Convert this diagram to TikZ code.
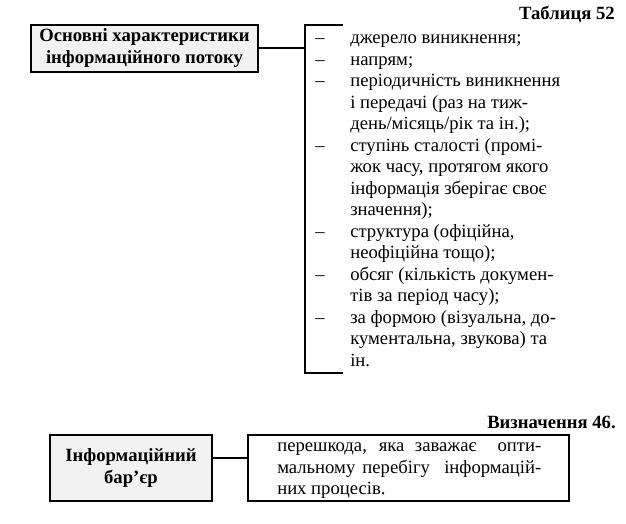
\documentclass[tikz,border=0pt]{standalone}
\usepackage{fontspec}
\setmainfont{Liberation Serif}
\begin{document}
\begin{tikzpicture}[x=0.75pt,y=-0.75pt,
  txt/.style={inner sep=0pt,font=\fontsize{14pt}{16.5pt}\selectfont},
  btxt/.style={inner sep=0pt,font=\fontsize{14pt}{16.5pt}\selectfont\bfseries},
  greybox/.style={draw,line width=1.5pt,fill=black!5,align=center,inner sep=0pt,
    font=\fontsize{14pt}{16.5pt}\selectfont\bfseries},
  whitebox/.style={draw,line width=1.5pt,inner sep=0pt},
  conn/.style={line width=1.4pt}]
\useasboundingbox (0,0) rectangle (626,524);

% titles
\node[btxt,anchor=base east] (tab) at (615,20) {Таблиця 52};
\node[btxt,anchor=base east] (viz) at (616,429) {Визначення 46.};

% top box
\node[greybox,minimum width=170.25pt,minimum height=35.25pt] (osn) at (144.5,48.5)
  {Основні характеристики\\інформаційного потоку};

% bracket
\coordinate (bt) at (343,25);
\coordinate (bl) at (305,25);
\coordinate (bm) at (305,48);
\coordinate (bb) at (305,373);
\coordinate (be) at (343,373);
\draw[conn] (bt) -- (bl) -- (bb) -- (be);
\draw[conn] (osn.east |- bm) -- (bm);

% list
\foreach \i/\d/\t in {
  1/1/{джерело виникнення;},
  2/1/{напрям;},
  3/1/{періодичність виникнення},
  4/0/{і передачі (раз на тиж-},
  5/0/{день/місяць/рік та ін.);},
  6/1/{ступінь сталості (промі-},
  7/0/{жок часу, протягом якого},
  8/0/{інформація зберігає своє},
  9/0/{значення);},
  10/1/{структура (офіційна,},
  11/0/{неофіційна тощо);},
  12/1/{обсяг (кількість докумен-},
  13/0/{тів за період часу);},
  14/1/{за формою (візуальна, до-},
  15/0/{кументальна, звукова) та},
  16/0/{ін.}}{
  \node[txt,anchor=base west] (l\i) at (350,{44+21.5*(\i-1)}) {\t};
  \ifnum\d=1
    \node[txt,anchor=base west] (d\i) at (315,{44+21.5*(\i-1)}) {–};
  \fi
}

% bottom
\node[greybox,minimum width=121.5pt,minimum height=49.5pt] (bar) at (131,468)
  {Інформаційний\\бар’єр};
\node[whitebox,minimum width=240.75pt,minimum height=49.5pt] (def) at (408.5,468) {};
\coordinate (cm) at (230,458);
\draw[conn] (bar.east |- cm) -- (def.west |- cm);

\node[txt,anchor=base west] (p1) at (277,452) {\makebox[198pt][s]{перешкода, яка заважає \ опти-}};
\node[txt,anchor=base west] (p2) at (277,474) {\makebox[198pt][s]{мальному перебігу \ інформацій-}};
\node[txt,anchor=base west] (p3) at (277,495) {них процесів.};
\end{tikzpicture}
\end{document}
